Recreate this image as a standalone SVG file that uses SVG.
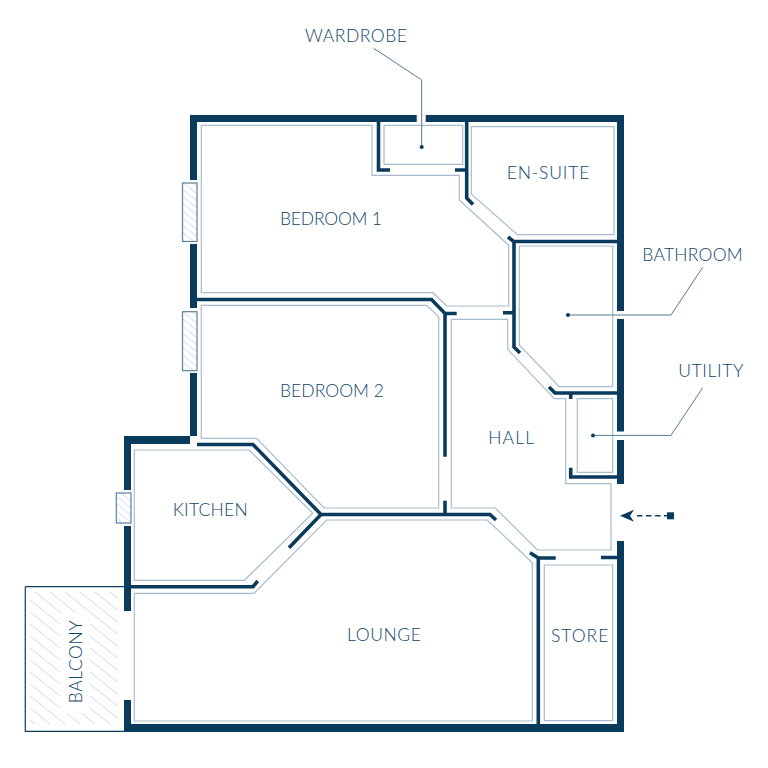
<svg xmlns="http://www.w3.org/2000/svg" width="768" height="768" viewBox="0 0 768 768">
<defs>
<pattern id="hb" patternUnits="userSpaceOnUse" width="15" height="12"><path d="M-1-.8L16 12.800" stroke="#cfdae2" stroke-width="1" fill="none"/></pattern>
<pattern id="hw" patternUnits="userSpaceOnUse" width="9" height="7.200"><path d="M-1-.8L10 8" stroke="#d6e0e7" stroke-width="1" fill="none"/></pattern>
</defs>
<style>
.w{fill:#0a3a5c}
.t{fill:none;stroke:#0a3a5c;stroke-width:3.6}
.r{fill:none;stroke:#a9bccb;stroke-width:1.2}
.win{fill:url(#hw);stroke:#5f8299;stroke-width:1.2}
.l{fill:none;stroke:#527a94;stroke-width:1}
.d{fill:#0a3a5c}
text{font-family:"Lato","Liberation Sans",sans-serif;font-weight:300;font-size:17.500px;fill:#0f456a;text-anchor:start}
</style>
<rect width="768" height="768" fill="#fff"/>
<g id="connectors">
<path class="w" d="M190 115H416.700V122H197V180H190ZM425.700 115H624V311H617V122H425.700ZM190 244H197V308H190ZM190 373H197V436H190V444H131V490H124V436H190ZM124 526H131V611H124ZM124 700H131V724H617V541H624V732H124ZM617 319H624V431.500H617ZM617 440H624V484H617Z"/>
<path class="t" d="M378.500 122V170H390M455 170H466.700M466.700 122V198L473 204.500M508 237L513.500 241.500H617M514 241.500V347L520 353M503 312.700H514M549 387L555 393H617M570.700 393V399M570.700 467.700V477H617M197 299.500H431.500L445 313.500H456.700M445 313.500V456.700M445 500.700V514.500M197 444.500H253L321 514.500H490L496 520M321 514.500L289 547.700M131 586.700H253L257.700 581M530 552.700L538.300 558H555.700M538.300 558V724M601 557.500H617"/>
<g class="r">
<path d="M201.300 125.300H372V175.300H459.300V200L508.700 245.300V306H446.700L433 292.700H201.300Z"/>
<path d="M384 125.300H462.700V164.300H384Z"/>
<path d="M471.300 126.700H614V234.700H517.300L471.300 194Z"/>
<path d="M519.300 246H612.700V386.700H559.300L519.300 345Z"/>
<path d="M451.300 319.300H507.700V349.300L554.300 398.700H565.700V483.700H611V550H537.300L495.300 508H451.300Z"/>
<path d="M577.300 398.700H612.700V472.300H577.300Z"/>
<path d="M201.300 305.300H426.700L438.700 316.700V508H324L256.700 438.300H201.300Z"/>
<path d="M134.300 450H249L312.700 513.300L244.300 580.300H134.300Z"/>
<path d="M134.300 593.300H254L326.700 520H487.300L532.300 562.700V721H134.300Z"/>
<path d="M544.300 565H612.700V720.700H544.300Z"/>
</g>
<path class="l" d="M373.700 48.300L421.700 80V147"/>
<path class="l" d="M568 315H671L702.700 267.300"/>
<path class="l" d="M593 435.400H671L702.700 387.700"/>
<circle class="d" cx="421.700" cy="147" r="2"/>
<circle class="d" cx="568" cy="315" r="2"/>
<circle class="d" cx="593" cy="435.400" r="2"/>
<path d="M637 515.700H667" fill="none" stroke="#0a3a5c" stroke-width="1.600" stroke-dasharray="5.500 3.500"/>
<path class="d" d="M620 515.700L634 509.800L630 515.700L634 521.700Z"/>
<rect class="d" x="667" y="512.300" width="7" height="7"/>
</g>
<g id="win1"><rect class="win" x="182.500" y="183" width="14.500" height="58.500"/></g>
<g id="win2"><rect class="win" x="182.500" y="311.700" width="14.500" height="59"/></g>
<g id="win3"><rect class="win" x="116.300" y="493" width="14.700" height="30"/></g>
<g id="balcony">
<path d="M25.300 586.700H124M124 731.300H25.300V586.700" fill="none" stroke="#0a3a5c" stroke-width="1.200"/>
<path d="M30 592H118V724H30ZM60 613V713H90V613Z" fill="url(#hb)" fill-rule="evenodd"/>
<text transform="translate(81.700 703.300) rotate(-90)" textLength="83">BALCONY</text>
</g>
<g id="bedroom1"><text x="280" y="225.300" textLength="102">BEDROOM 1</text></g>
<g id="bedroom2"><text x="280" y="397" textLength="104">BEDROOM 2</text></g>
<g id="wardrobe"><text x="305" y="41.700" textLength="102">WARDROBE</text></g>
<g id="ensuite"><text x="506.700" y="179.300" textLength="82.600">EN-SUITE</text></g>
<g id="bathroom"><text x="642.300" y="261" textLength="100.400">BATHROOM</text></g>
<g id="utility"><text x="678.300" y="377.300" textLength="65">UTILITY</text></g>
<g id="hall"><text x="488.300" y="444" textLength="45.700">HALL</text></g>
<g id="kitchen"><text x="172.700" y="516" textLength="75">KITCHEN</text></g>
<g id="lounge"><text x="347" y="641" textLength="74">LOUNGE</text></g>
<g id="store"><text x="551" y="641.700" textLength="57.300">STORE</text></g>
</svg>
